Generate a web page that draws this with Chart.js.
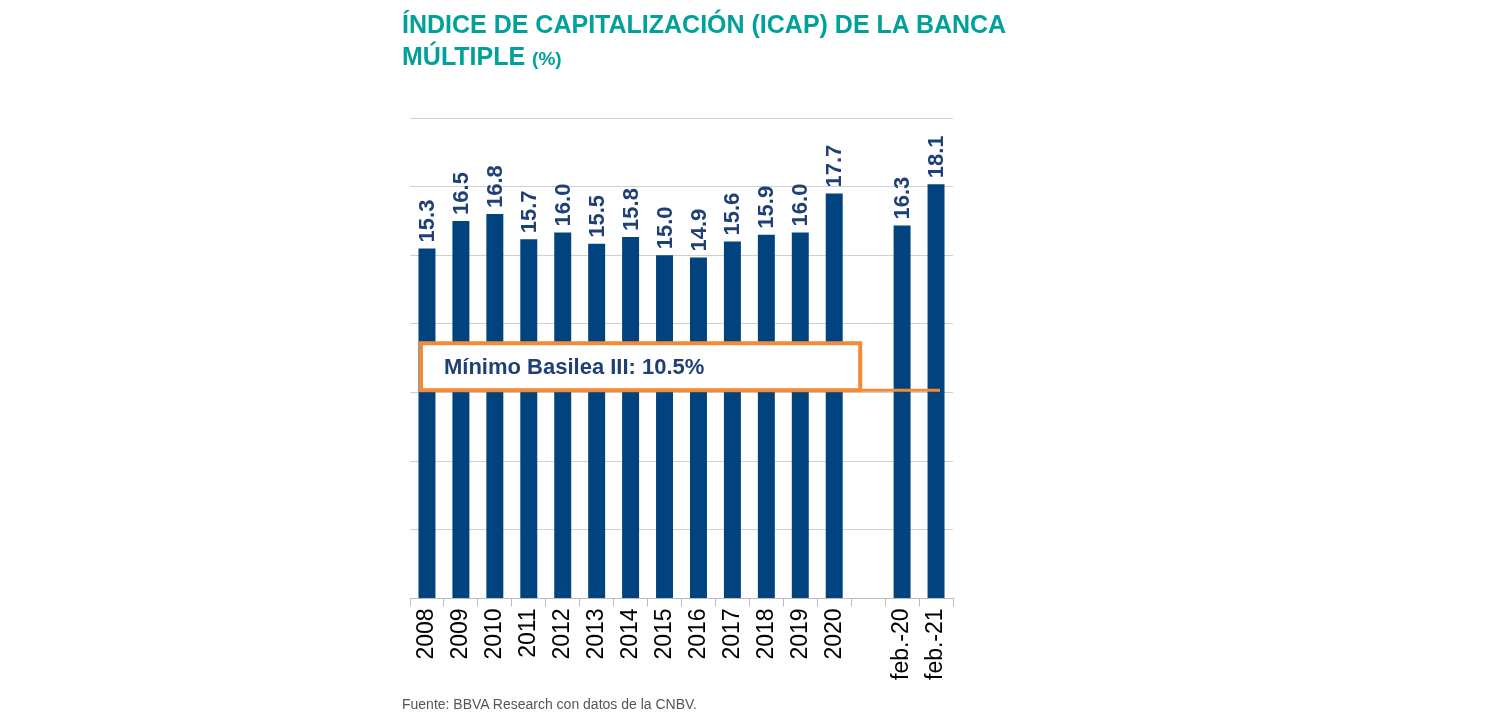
<!DOCTYPE html>
<html><head><meta charset="utf-8">
<script src="https://cdn.jsdelivr.net/npm/chart.js@4.4.0/dist/chart.umd.min.js"></script>
<style>
body{margin:0;background:#fff;font-family:"Liberation Sans",Arial,sans-serif}
#t{position:absolute;left:402px;top:8px;color:#00a19a;font-weight:bold;font-size:25px;line-height:32px}
#t small{font-size:19px}
#src{position:absolute;left:402px;top:696px;color:#555;font-size:14px}
#wrap{position:absolute;left:0;top:0;width:1501px;height:722px}
</style></head><body>
<div id="wrap"><canvas id="c"></canvas></div>
<div id="t">ÍNDICE DE CAPITALIZACIÓN (ICAP) DE LA BANCA<br>MÚLTIPLE <small>(%)</small></div>
<div id="src">Fuente: BBVA Research con datos de la CNBV.</div>
<script>
const labels = ['2008','2009','2010','2011','2012','2013','2014','2015','2016','2017','2018','2019','2020','','feb.-20','feb.-21']
const icap = [15.3,16.5,16.8,15.7,16.0,15.5,15.8,15.0,14.9,15.6,15.9,16.0,17.7,null,16.3,18.1]
const minimoText = 'Mínimo Basilea III: 10.5%'
const minimoLine = 9.1

const navy = '#00437f'

const barLabels = {
  id:'barLabels',
  afterDatasetsDraw(chart){
    const ctx = chart.ctx
    chart.getDatasetMeta(0).data.forEach((bar,i)=>{
      if(icap[i]==null) return
      ctx.save()
      ctx.translate(bar.x+1, bar.y-6)
      ctx.rotate(-Math.PI/2)
      ctx.font = 'bold 22px "Liberation Sans", Arial'
      ctx.fillStyle = '#1f3f77'
      ctx.textBaseline = 'middle'
      ctx.textAlign = 'left'
      ctx.fillText(icap[i].toFixed(1),0,0)
      ctx.restore()
    })
  }
}

const minimoBox = {
  id:'minimoBox',
  afterDatasetsDraw(chart){
    const ctx = chart.ctx, x = chart.scales.x, y = chart.scales.y
    const yl = y.getPixelForValue(minimoLine)
    const left = x.getPixelForValue(0)-6, right = x.getPixelForValue(12)+26
    ctx.save()
    ctx.strokeStyle = '#f28a36'
    ctx.lineWidth = 3
    ctx.beginPath()
    ctx.moveTo(right, yl); ctx.lineTo(x.getPixelForValue(15)+4, yl); ctx.stroke()
    ctx.fillStyle = '#fff'
    ctx.fillRect(left, yl-47, right-left, 47)
    ctx.lineWidth = 4
    ctx.strokeRect(left, yl-47, right-left, 47)
    ctx.fillStyle = '#1f3f77'
    ctx.font = 'bold 22px "Liberation Sans", Arial'
    ctx.textBaseline = 'middle'
    ctx.fillText(minimoText, left+23, yl-22)
    ctx.restore()
  }
}

new Chart(document.getElementById('c'),{
  type:'bar',
  data:{labels, datasets:[{data:icap, backgroundColor:navy, barPercentage:0.5, categoryPercentage:1}]},
  options:{
    responsive:true, maintainAspectRatio:false, animation:false,
    layout:{padding:{left:410,right:548,top:118,bottom:40}},
    plugins:{legend:{display:false},tooltip:{enabled:false}},
    scales:{
      x:{
        grid:{display:true, drawOnChartArea:false, offset:true, tickLength:8, color:'#bbb'},
        border:{color:'#bbb'},
        ticks:{color:'#000', font:{size:23, family:'"Liberation Sans", Arial'}, minRotation:90, maxRotation:90, padding:2}
      },
      y:{
        min:0, max:21,
        ticks:{stepSize:3, display:false},
        grid:{color:'#d0d0d0', drawTicks:false},
        border:{display:false}
      }
    }
  },
  plugins:[barLabels, minimoBox]
})
</script>
</body></html>
